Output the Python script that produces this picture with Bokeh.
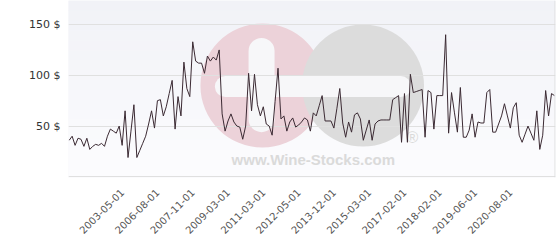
import math
from bokeh.plotting import figure
from bokeh.models import Range1d, FixedTicker, BoxAnnotation, Span
from bokeh.embed import file_html
from bokeh.resources import INLINE
from bokeh.core.properties import value

# ---- data ----
prices = [
    36, 40, 31, 38, 37, 30, 38, 27, 30, 32, 31, 33, 30, 40, 47, 45, 43, 50, 31, 65,
    19, 45, 71, 19, 26, 33, 40, 52, 65, 48, 75, 76, 60, 69, 82, 95, 47, 79, 60, 113,
    87, 79, 133, 114, 112, 112, 102, 119, 114, 118, 115, 125, 62, 45, 55, 62, 54, 50, 49, 37,
    50, 102, 65, 101, 71, 60, 69, 52, 50, 41, 74, 107, 57, 60, 45, 54, 58, 49, 51, 54,
    58, 56, 45, 63, 60, 70, 80, 55, 55, 55, 48, 67, 87, 53, 39, 54, 44, 61, 63, 57,
    36, 46, 56, 36, 52, 55, 56, 56, 56, 56, 76, 78, 80, 34, 82, 34, 101, 83, 84, 85,
    86, 39, 85, 83, 47, 80, 80, 80, 140, 43, 83, 63, 44, 88, 39, 39, 46, 62, 39, 54,
    53, 53, 83, 86, 44, 44, 52, 60, 72, 60, 48, 68, 73, 41, 34, 42, 50, 43, 36, 65,
    27, 41, 85, 60, 82, 80,
]
tick_index = [18, 30, 42, 54, 66, 78, 90, 102, 114, 126, 138, 150]
tick_labels = ["2003-05-01", "2006-08-01", "2007-11-01", "2009-03-01", "2011-03-01",
               "2012-05-01", "2013-12-01", "2015-03-01", "2017-02-01", "2018-02-01",
               "2019-06-01", "2020-08-01"]
y_ticks = [0, 50, 100, 150]
currency = "$"

idx = list(range(len(prices)))

p = figure(width=560, height=240, output_backend="svg", toolbar_location=None,
           x_range=Range1d(-0.24, 165.35), y_range=Range1d(-0.68, 173.7),
           min_border_left=68, min_border_right=5, min_border_top=0, min_border_bottom=61)
p.border_fill_color = "white"
p.background_fill_color = "#f6f7fa"
p.outline_line_color = None

def canvas_box(l, r, t, b, color):
    return BoxAnnotation(left=l, right=r, top=t, bottom=b,
                         left_units="canvas", right_units="canvas",
                         top_units="canvas", bottom_units="canvas",
                         fill_color=color, fill_alpha=1, line_color=None, level="image")

# left grey panel
p.add_layout(canvas_box(0, 62.5, 0, 240, "#e8ecef"))
# soft vertical gradient of the plot background
top_rgb = (241, 242, 247)
bot_rgb = (252, 252, 254)
n_bands = 18
for k in range(n_bands):
    f = k / (n_bands - 1)
    c = tuple(round(a + (b - a) * f) for a, b in zip(top_rgb, bot_rgb))
    y0 = 179 * k / n_bands
    y1 = 179 * (k + 1) / n_bands + 0.5
    p.add_layout(canvas_box(63.5, 555, y0, min(y1, 179), "#%02x%02x%02x" % c))

# watermark (decoration)
p.circle(x=[65.7], y=[89.9], radius=62, radius_units="screen", fill_color="#ecd2d9",
         line_color=None, level="underlay")
p.circle(x=[99.9], y=[89.9], radius=61, radius_units="screen", fill_color="#dcdcdc",
         line_color=None, level="underlay")
p.line(x=[65.4, 65.4], y=[124.0, 56.8], line_width=26, line_cap="round",
       line_color="#f7f7f9", level="underlay")
p.line(x=[53.1, 112.7], y=[88.9, 88.9], line_width=21, line_cap="round",
       line_color="#f7f7f9", level="underlay")
p.text(x=[83.0], y=[16.9], text=["www.Wine-Stocks.com"], text_align="center",
       text_baseline="middle", text_font=value("Liberation Sans"), text_font_style="bold",
       text_font_size="15px", text_color="#dadada", level="underlay")
p.text(x=[116.7], y=[38.3], text=["\u00ae"], text_align="center",
       text_baseline="middle", text_font=value("Liberation Sans"),
       text_font_size="16px", text_color="#dadada", level="underlay")

p.line(idx, prices, line_color="#3b2a33", line_width=1)

p.add_layout(Span(location=165.2, dimension="height", line_color="#dcdcdc", line_width=1))

# axes
p.xaxis.ticker = FixedTicker(ticks=tick_index)
p.xaxis.major_label_overrides = {i: l for i, l in zip(tick_index, tick_labels)}
p.xaxis.major_label_orientation = math.pi / 4
p.xaxis.major_label_text_font = "DejaVu Sans"
p.xaxis.major_label_text_font_size = "10px"
p.xaxis.major_label_text_color = "#555555"
p.xaxis.major_label_standoff = 13

p.yaxis.ticker = FixedTicker(ticks=y_ticks)
p.yaxis.major_label_overrides = {t: ("" if t == 0 else f"{t} {currency}") for t in y_ticks}
p.yaxis.major_label_text_font = "DejaVu Sans"
p.yaxis.major_label_text_font_size = "11px"
p.yaxis.major_label_text_color = "#333333"
p.yaxis.major_label_standoff = 8

for ax in (p.xaxis, p.yaxis):
    ax.axis_line_color = None
    ax.major_tick_line_color = None
    ax.minor_tick_line_color = None
    ax.major_tick_out = 0
    ax.major_tick_in = 0

p.xgrid.visible = False
p.ygrid.ticker = FixedTicker(ticks=y_ticks)
p.ygrid.grid_line_color = "#e0e0e0"

open("out.html", "w").write(file_html(p, INLINE))
